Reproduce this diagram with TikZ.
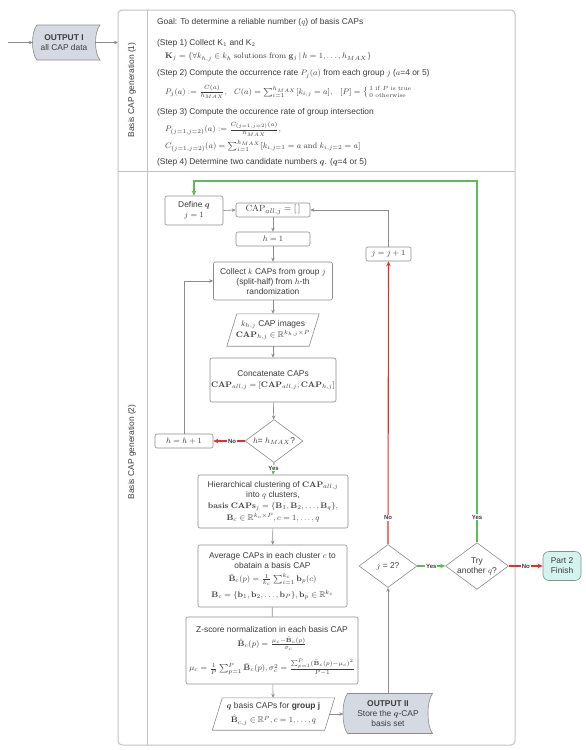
\documentclass[tikz,border=0pt]{standalone}
\usepackage{amsmath,amssymb}
\usepackage[no-math]{fontspec}
\setmainfont{Liberation Sans}
\usetikzlibrary{arrows.meta,shapes.geometric,calc}
\definecolor{tx}{HTML}{3C3C3C}
\definecolor{ln}{HTML}{8C8C8C}
\definecolor{pan}{HTML}{C2C2C2}
\definecolor{rd}{HTML}{E0312B}
\definecolor{gr}{HTML}{5DBB5D}
\definecolor{sto}{HTML}{D5DAE2}
\definecolor{fin}{HTML}{D3F3EF}
\begin{document}
\begin{tikzpicture}[x=1pt,y=-1pt,font=\fontsize{8.4}{10}\selectfont,text=tx,
  box/.style={draw=ln,rounded corners=2pt,fill=white,align=center,inner sep=1pt,line width=0.6pt},
  plain/.style={align=center,inner sep=1pt},
  dia/.style={diamond,draw=ln,aspect=1.35,minimum width=58pt,minimum height=43pt,inner sep=0pt,align=center,fill=white,line width=0.6pt},
  arr/.style={draw=ln,line width=0.6pt,-{Stealth[length=4pt,width=3.5pt]}},
  rarr/.style={draw=rd,line width=1.1pt,-{Stealth[length=5pt,width=4.5pt]}},
  garr/.style={draw=gr,line width=1.1pt,-{Stealth[length=5pt,width=4.5pt]}},
  lab/.style={font=\fontsize{6}{7}\selectfont\bfseries,fill=white,inner sep=0.8pt,text=tx},
  ptxt/.style={anchor=west,inner sep=0pt},
  stor/.style={draw=ln,fill=sto,line width=0.6pt}]
\useasboundingbox (0,0) rectangle (586,750);
\fill[white] (0,0) rectangle (586,750);

% panels
\draw[draw=pan,line width=1pt,rounded corners=4pt] (118,10) rectangle (515,745);
\draw[draw=pan,line width=1pt] (118,171) -- (515,171);
\draw[draw=pan,line width=1pt] (147,10) -- (147,745);
\node[rotate=90] (lab1) at (132,90) {Basis CAP generation (1)};
\node[rotate=90] (lab2) at (132,452) {Basis CAP generation (2)};

% panel 1 texts
\node[ptxt] (goal) at (157,22) {Goal: To determine a reliable number ($q$) of basis CAPs};
\node[ptxt] (s1) at (157,43) {(Step 1) Collect K$_1$ and K$_2$};
\node[ptxt] (f1) at (165,57) {$\mathbf{K}_j=\{\forall k_{h,j}\in k_h\ \mathrm{solutions\ from}\ \mathbf{g}_j\,|\,h=1,\ldots,h_{MAX}\}$};
\node[ptxt] (s2) at (157,74) {(Step 2) Compute the occurrence rate $P_j(a)$ from each group $j$ ($a$=4 or 5)};
\node[ptxt] (f2a) at (165,92) {$P_j(a):=\frac{C(a)}{h_{MAX}},$};
\node[ptxt] (f2b) at (234,92) {$C(a)=\sum_{i=1}^{h_{MAX}}[k_{i,j}=a],$};
\node[ptxt] (f2c) at (340,92) {$[P]=\left\{\begin{smallmatrix}1 & \mathrm{if}\ P\ \mathrm{is\ true}\\[1pt] 0 & \mathrm{otherwise}\hfill\end{smallmatrix}\right.$};
\node[ptxt] (s3) at (157,112) {(Step 3) Compute the occurence rate of group intersection};
\node[ptxt] (f3a) at (165,129) {$P_{(j=1,j=2)}(a):=\frac{C_{(j=1,j=2)}(a)}{h_{MAX}},$};
\node[ptxt] (f3b) at (165,146) {$C_{(j=1,j=2)}(a)=\sum_{i=1}^{h_{MAX}}[k_{i,j=1}=a\ \mathrm{and}\ k_{i,j=2}=a]$};
\node[ptxt] (s4) at (157,162) {(Step 4) Determine two candidate numbers $\boldsymbol{q}$. ($\boldsymbol{q}$=4 or 5)};

% OUTPUT I
\draw[stor] (37,25) -- (100,25) .. controls (94,32) and (94,53) .. (100,60) -- (37,60) .. controls (31,53) and (31,32) .. (37,25) -- cycle;
\node[plain,minimum width=62,minimum height=35] (o1) at (64,42.5) {\textbf{OUTPUT I}\\all CAP data};
\coordinate (src) at (8,42.5);
\coordinate (p1in) at (118,42.5);
\draw[arr] (src) -- (o1.west);
\draw[arr] (o1.east) -- (p1in);

% panel 2 nodes
\node[box,minimum width=58,minimum height=29] (defq) at (194,210.5) {Define $\boldsymbol{q}$\\$j=1$};
\node[box,minimum width=74,minimum height=14] (capall) at (273,210) {\fontsize{9.5}{10}\selectfont$\mathrm{CAP}_{all,j}=[\,]$};
\node[box,minimum width=74,minimum height=14] (h1) at (273,239) {$h=1$};
\node[box,minimum width=119,minimum height=38] (collect) at (273,281) {Collect $k$ CAPs from group $j$\\(split-half) from $h$-th\\randomization};
\node[plain,minimum width=82,minimum height=32] (pa) at (273,330) {$k_{h,j}$ CAP images\\[1pt]$\mathbf{CAP}_{h,j}\in\mathbb{R}^{k_{h,j}\times P}$};
\draw[draw=ln,line width=0.6pt] ([xshift=5pt]pa.north west) -- ([xshift=5pt]pa.north east) -- ([xshift=-5pt]pa.south east) -- ([xshift=-5pt]pa.south west) -- cycle;
\node[box,minimum width=119,minimum height=44] (concat) at (273,380) {Concatenate CAPs\\[1pt]$\mathbf{CAP}_{all,j}=[\mathbf{CAP}_{all,j};\mathbf{CAP}_{h,j}]$};
\node[dia] (dh) at (274,441) {$h$= $h_{MAX}$?};
\node[box,minimum width=58,minimum height=14] (hinc) at (184,441) {$h=h+1$};
\node[box,minimum width=150,minimum height=53] (hier) at (273,501.5) {Hierarchical clustering of $\mathbf{CAP}_{all,j}$\\into $q$ clusters,\\[1pt]$\mathbf{basis\ CAPs}_j=\{\mathbf{B}_1,\mathbf{B}_2,\ldots,\mathbf{B}_q\},$\\[2pt]$\mathbf{B}_c\in\mathbb{R}^{k_c\times P},c=1,\ldots,q$};
\node[box,minimum width=149,minimum height=62] (avg) at (272.5,576) {Average CAPs in each cluster $c$ to\\obatain a basis CAP\\[3pt]$\bar{\mathbf{B}}_c(p)=\frac{1}{k_c}\sum_{i=1}^{k_c}\mathbf{b}_p(c)$\\[4pt]$\mathbf{B}_c=\{\mathbf{b}_1,\mathbf{b}_2,\ldots,\mathbf{b}_P\},\mathbf{b}_p\in\mathbb{R}^{k_c}$};
\node[box,minimum width=172,minimum height=67] (zs) at (272,650.5) {Z-score normalization in each basis CAP\\[4pt]$\hat{\mathbf{B}}_c(p)=\frac{\mu_c-\bar{\mathbf{B}}_c(p)}{\sigma_c}$\\[8pt]$\mu_c=\frac{1}{P}\sum_{p=1}^{P}\bar{\mathbf{B}}_c(p),\sigma_c^2=\frac{\sum_{p=1}^{P}(\bar{\mathbf{B}}_c(p)-\mu_c)^2}{P-1}$};
\node[plain,minimum width=112,minimum height=32] (qb) at (273.5,714) {$\boldsymbol{q}$ basis CAPs for \textbf{group j}\\[4pt]$\hat{\mathbf{B}}_{c,j}\in\mathbb{R}^{P},c=1,\ldots,q$};
\draw[draw=ln,line width=0.6pt] ([xshift=5pt]qb.north west) -- ([xshift=5pt]qb.north east) -- ([xshift=-5pt]qb.south east) -- ([xshift=-5pt]qb.south west) -- cycle;
\draw[stor] (347.5,693.5) -- (432.5,693.5) .. controls (426.5,701) and (426.5,726) .. (432.5,733.5) -- (347.5,733.5) .. controls (341.5,726) and (341.5,701) .. (347.5,693.5) -- cycle;
\node[plain,minimum width=89,minimum height=40] (o2) at (388,713.5) {\textbf{OUTPUT II}\\Store the $\boldsymbol{q}$-CAP\\basis set};
\node[dia] (j2) at (388,566) {$j$ = 2?};
\node[box,minimum width=45,minimum height=14] (jinc) at (388.5,254) {$j=j+1$};
\node[dia] (try) at (477,566) {Try\\another $q$?};
\node[box,rounded corners=6pt,fill=fin,minimum width=38,minimum height=29] (fin) at (562,566) {Part 2\\Finish};
\coordinate (gtop) at (477,181);

% connectors
\draw[arr] (defq.east) -- (capall.west);
\draw[arr] (capall) -- (h1);
\draw[arr] (h1) -- (collect);
\draw[arr] (collect) -- (pa);
\draw[arr] (pa) -- (concat);
\draw[arr] (concat) -- (dh);
\draw[garr] (dh.south) -- node[lab,pos=0.45]{Yes} (hier.north);
\draw[rarr] (dh.west) -- node[lab,pos=0.4]{No} (hinc.east);
\draw[arr] (hinc.north) |- (collect.west);
\draw[arr] (hier) -- (avg);
\draw[draw=ln,line width=0.6pt] (avg) -- (zs);
\draw[arr] (zs) -- (qb);
\draw[arr] (qb.east) -- (qb.east -| o2.west);
\draw[arr] (o2.north) -- (j2.south);
\draw[rarr] (j2.north) -- node[lab,pos=0.094]{No} (jinc.south);
\draw[arr] (jinc.north) |- (capall.east);
\draw[garr] (j2.east) -- node[lab]{Yes} (try.west);
\draw[garr] (try.north) -- node[lab,pos=0.07]{Yes} (gtop) -| (defq.north);
\draw[rarr] (try.east) -- node[lab]{No} (fin.west);
\end{tikzpicture}
\end{document}
